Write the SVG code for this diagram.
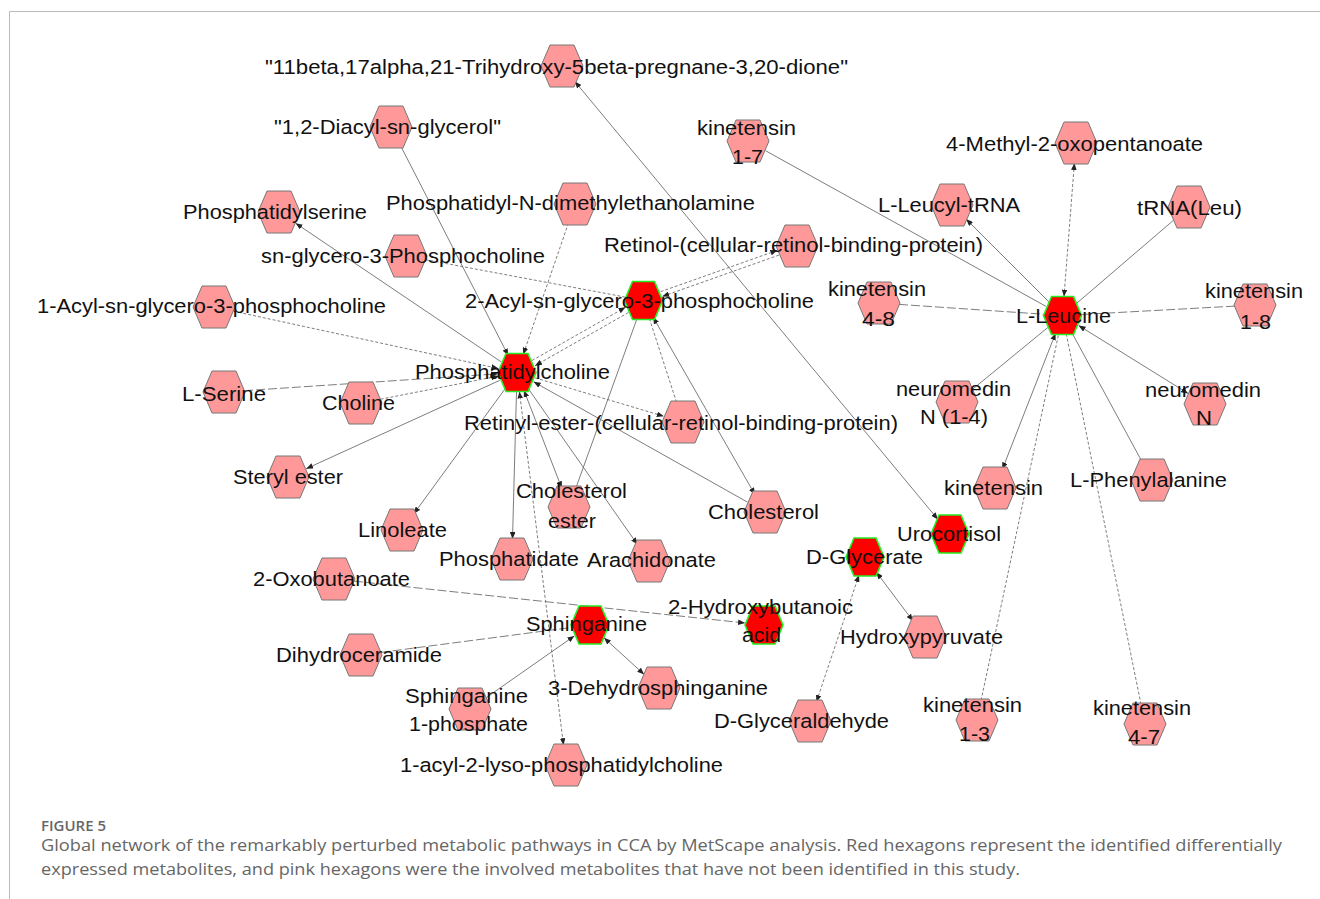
<svg xmlns="http://www.w3.org/2000/svg" xmlns:xlink="http://www.w3.org/1999/xlink" width="1320" height="899" viewBox="0 0 1320 899">
<style>
.e{stroke:#666;stroke-width:0.85;fill:none}
.d{stroke:#666;stroke-width:0.85;fill:none;stroke-dasharray:3 2}
.dl{stroke:#666;stroke-width:0.85;fill:none;stroke-dasharray:9 3}
.s{marker-start:url(#ah)}
.t{marker-end:url(#ah)}
text.l{font-family:"Liberation Sans",Arial,sans-serif;font-size:20.5px;fill:#111}
.cap{font-family:"Open Sans","Liberation Sans",sans-serif;fill:#666}
</style>
<defs>
<marker id="ah" viewBox="0 0 10 8" refX="10" refY="4" markerWidth="7" markerHeight="5.6" markerUnits="userSpaceOnUse" orient="auto-start-reverse"><path d="M0,0 L10,4 L0,8 z" fill="#222"/></marker>
<polygon id="hp" points="-21,0 -12,-21 12,-21 21,0 12,21 -12,21" fill="#FF9999" stroke="#777" stroke-width="1"/>
<polygon id="hr" points="-19,0 -11,-19 11,-19 19,0 11,19 -11,19" fill="#FF0000" stroke="#22EE22" stroke-width="1.6"/>
</defs>
<rect width="1320" height="899" fill="#fff"/>
<path d="M9.5,899 V11.5 H1320" fill="none" stroke="#bbb" stroke-width="1"/>

<g id="connectors">
<line class="e s t" x1="574.8" y1="81.4" x2="937.9" y2="519.4"/>
<line class="e t" x1="400.1" y1="144.8" x2="508.3" y2="355.6"/>
<line class="d t" x1="568.5" y1="222.9" x2="523.2" y2="354.5"/>
<line class="e t" x1="501.2" y1="361.9" x2="295.6" y2="223.2"/>
<line class="d t" x1="233.5" y1="311.2" x2="498.4" y2="368.5"/>
<line class="dl t" x1="244" y1="390.7" x2="498" y2="373.8"/>
<line class="d t" x1="380.6" y1="399.2" x2="498.4" y2="376.1"/>
<line class="e t" x1="499.7" y1="380.4" x2="306.2" y2="468.7"/>
<line class="e t" x1="505.8" y1="387.8" x2="413.8" y2="513.8"/>
<line class="e t" x1="516.5" y1="391.5" x2="512.5" y2="539"/>
<line class="d s t" x1="519.4" y1="391.4" x2="563.5" y2="745.2"/>
<line class="e s t" x1="523.9" y1="390.2" x2="561.8" y2="488.3"/>
<line class="e t" x1="527.9" y1="388.1" x2="637.5" y2="544.6"/>
<line class="d t" x1="535.2" y1="377.9" x2="663.8" y2="416.3"/>
<line class="e t" x1="747.6" y1="502.2" x2="533.6" y2="381.8"/>
<line class="d t" x1="532" y1="360.5" x2="625.5" y2="307.3"/>
<line class="d t" x1="628.5" y1="312.5" x2="535" y2="365.7"/>
<line class="d t" x1="660.6" y1="291.7" x2="777.4" y2="250.3"/>
<line class="d t" x1="779" y1="255.1" x2="662.2" y2="296.5"/>
<line class="d" x1="425.7" y1="259.7" x2="624.8" y2="297"/>
<line class="e" x1="637.1" y1="318.4" x2="575.8" y2="488.2"/>
<line class="d" x1="649.4" y1="318.6" x2="676.8" y2="403"/>
<line class="e s t" x1="653" y1="317" x2="755" y2="494.7"/>
<line class="e" x1="765.5" y1="150.7" x2="1045.9" y2="306.3"/>
<line class="e t" x1="1049" y1="302" x2="966.1" y2="219.1"/>
<line class="d s t" x1="1064" y1="296.6" x2="1074.4" y2="163"/>
<line class="e" x1="1173.8" y1="220" x2="1076.9" y2="303.1"/>
<line class="dl" x1="899" y1="304.4" x2="1043.5" y2="314.2"/>
<line class="dl" x1="1235" y1="306.1" x2="1081.5" y2="314.5"/>
<line class="e" x1="972.5" y1="389.3" x2="1047.8" y2="327.5"/>
<line class="e s t" x1="1188" y1="393.4" x2="1078.6" y2="325.5"/>
<line class="e s t" x1="1055.6" y1="333.2" x2="1002.3" y2="469.4"/>
<line class="d" x1="981.1" y1="700.4" x2="1058.6" y2="334.1"/>
<line class="d" x1="1141" y1="704.4" x2="1066.3" y2="334.1"/>
<line class="e" x1="1142.4" y1="462.4" x2="1071.6" y2="332.2"/>
<line class="dl t" x1="353.9" y1="581.1" x2="745.1" y2="623"/>
<line class="dl" x1="380.8" y1="652.4" x2="571.2" y2="627.5"/>
<line class="e t" x1="486.4" y1="697.5" x2="574.4" y2="635.9"/>
<line class="e s t" x1="604" y1="637.8" x2="644.2" y2="674.5"/>
<line class="d s t" x1="859" y1="575" x2="816.4" y2="702"/>
<line class="e s t" x1="876.4" y1="572.2" x2="913" y2="621"/>
</g>

<g id="n-trihydroxy"><use href="#hp" x="562" y="66"/><text class="l" x="265" y="74" textLength="583" lengthAdjust="spacingAndGlyphs">"11beta,17alpha,21-Trihydroxy-5beta-pregnane-3,20-dione"</text></g>
<g id="n-diacylglycerol"><use href="#hp" x="391" y="127"/><text class="l" x="274" y="134" textLength="227" lengthAdjust="spacingAndGlyphs">"1,2-Diacyl-sn-glycerol"</text></g>
<g id="n-phosphatidylserine"><use href="#hp" x="279" y="212"/><text class="l" x="183" y="219" textLength="184" lengthAdjust="spacingAndGlyphs">Phosphatidylserine</text></g>
<g id="n-pndme"><use href="#hp" x="575" y="204"/><text class="l" x="386" y="210" textLength="369" lengthAdjust="spacingAndGlyphs">Phosphatidyl-N-dimethylethanolamine</text></g>
<g id="n-snglycero"><use href="#hp" x="406" y="256"/><text class="l" x="261" y="263" textLength="284" lengthAdjust="spacingAndGlyphs">sn-glycero-3-Phosphocholine</text></g>
<g id="n-1acyl"><use href="#hp" x="214" y="307"/><text class="l" x="37" y="313" textLength="349" lengthAdjust="spacingAndGlyphs">1-Acyl-sn-glycero-3-phosphocholine</text></g>
<g id="n-retinol"><use href="#hp" x="797" y="246"/><text class="l" x="604" y="252" textLength="379" lengthAdjust="spacingAndGlyphs">Retinol-(cellular-retinol-binding-protein)</text></g>
<g id="n-2acyl"><use href="#hr" x="643.5" y="300.5"/><text class="l" x="465" y="307.5" textLength="349" lengthAdjust="spacingAndGlyphs">2-Acyl-sn-glycero-3-phosphocholine</text></g>
<g id="n-pc"><use href="#hr" x="517" y="372.5"/><text class="l" x="415" y="379" textLength="195" lengthAdjust="spacingAndGlyphs">Phosphatidylcholine</text></g>
<g id="n-lserine"><use href="#hp" x="224" y="392"/><text class="l" x="182" y="401" textLength="84" lengthAdjust="spacingAndGlyphs">L-Serine</text></g>
<g id="n-choline"><use href="#hp" x="361" y="403"/><text class="l" x="322" y="410" textLength="73" lengthAdjust="spacingAndGlyphs">Choline</text></g>
<g id="n-retinylester"><use href="#hp" x="683" y="422"/><text class="l" x="464" y="430" textLength="434" lengthAdjust="spacingAndGlyphs">Retinyl-ester-(cellular-retinol-binding-protein)</text></g>
<g id="n-sterylester"><use href="#hp" x="288" y="477"/><text class="l" x="233" y="484" textLength="110" lengthAdjust="spacingAndGlyphs">Steryl ester</text></g>
<g id="n-cholesterolester"><use href="#hp" x="569" y="507"/><text class="l" x="516" y="498" textLength="111" lengthAdjust="spacingAndGlyphs">Cholesterol</text><text class="l" x="548" y="528" textLength="48" lengthAdjust="spacingAndGlyphs">ester</text></g>
<g id="n-cholesterol"><use href="#hp" x="765" y="512"/><text class="l" x="708" y="519" textLength="111" lengthAdjust="spacingAndGlyphs">Cholesterol</text></g>
<g id="n-linoleate"><use href="#hp" x="402" y="530"/><text class="l" x="358" y="537" textLength="89" lengthAdjust="spacingAndGlyphs">Linoleate</text></g>
<g id="n-phosphatidate"><use href="#hp" x="512" y="559"/><text class="l" x="439" y="566" textLength="140" lengthAdjust="spacingAndGlyphs">Phosphatidate</text></g>
<g id="n-arachidonate"><use href="#hp" x="649" y="561"/><text class="l" x="587" y="567" textLength="129" lengthAdjust="spacingAndGlyphs">Arachidonate</text></g>
<g id="n-oxobutanoate"><use href="#hp" x="334" y="579"/><text class="l" x="253" y="586" textLength="157" lengthAdjust="spacingAndGlyphs">2-Oxobutanoate</text></g>
<g id="n-sphinganine"><use href="#hr" x="590" y="625"/><text class="l" x="526" y="631" textLength="121" lengthAdjust="spacingAndGlyphs">Sphinganine</text></g>
<g id="n-hydroxybutanoic"><use href="#hr" x="764" y="625"/><text class="l" x="668" y="614" textLength="185" lengthAdjust="spacingAndGlyphs">2-Hydroxybutanoic</text><text class="l" x="742" y="642" textLength="39" lengthAdjust="spacingAndGlyphs">acid</text></g>
<g id="n-dihydroceramide"><use href="#hp" x="361" y="655"/><text class="l" x="276" y="662" textLength="166" lengthAdjust="spacingAndGlyphs">Dihydroceramide</text></g>
<g id="n-dehydrosphinganine"><use href="#hp" x="659" y="688"/><text class="l" x="548" y="695" textLength="220" lengthAdjust="spacingAndGlyphs">3-Dehydrosphinganine</text></g>
<g id="n-sphinganine1p"><use href="#hp" x="470" y="709"/><text class="l" x="405" y="703" textLength="123" lengthAdjust="spacingAndGlyphs">Sphinganine</text><text class="l" x="409" y="731" textLength="119" lengthAdjust="spacingAndGlyphs">1-phosphate</text></g>
<g id="n-lysopc"><use href="#hp" x="566" y="765"/><text class="l" x="400" y="772" textLength="323" lengthAdjust="spacingAndGlyphs">1-acyl-2-lyso-phosphatidylcholine</text></g>
<g id="n-glyceraldehyde"><use href="#hp" x="810" y="721"/><text class="l" x="714" y="728" textLength="175" lengthAdjust="spacingAndGlyphs">D-Glyceraldehyde</text></g>
<g id="n-glycerate"><use href="#hr" x="865" y="557"/><text class="l" x="806" y="564" textLength="117" lengthAdjust="spacingAndGlyphs">D-Glycerate</text></g>
<g id="n-hydroxypyruvate"><use href="#hp" x="925" y="637"/><text class="l" x="840" y="644" textLength="163" lengthAdjust="spacingAndGlyphs">Hydroxypyruvate</text></g>
<g id="n-urocortisol"><use href="#hr" x="950" y="534"/><text class="l" x="897" y="541" textLength="104" lengthAdjust="spacingAndGlyphs">Urocortisol</text></g>
<g id="n-leucine"><use href="#hr" x="1062.5" y="315.5"/><text class="l" x="1016" y="323" textLength="95" lengthAdjust="spacingAndGlyphs">L-Leucine</text></g>
<g id="n-kinetensin17"><use href="#hp" x="748" y="141"/><text class="l" x="697" y="135" textLength="99" lengthAdjust="spacingAndGlyphs">kinetensin</text><text class="l" x="732" y="164" textLength="31" lengthAdjust="spacingAndGlyphs">1-7</text></g>
<g id="n-methyloxopentanoate"><use href="#hp" x="1076" y="143"/><text class="l" x="946" y="151" textLength="257" lengthAdjust="spacingAndGlyphs">4-Methyl-2-oxopentanoate</text></g>
<g id="n-leucyltrna"><use href="#hp" x="952" y="205"/><text class="l" x="878" y="212" textLength="142" lengthAdjust="spacingAndGlyphs">L-Leucyl-tRNA</text></g>
<g id="n-trnaleu"><use href="#hp" x="1189" y="207"/><text class="l" x="1137" y="215" textLength="105" lengthAdjust="spacingAndGlyphs">tRNA(Leu)</text></g>
<g id="n-kinetensin48"><use href="#hp" x="879" y="303"/><text class="l" x="828" y="296" textLength="98" lengthAdjust="spacingAndGlyphs">kinetensin</text><text class="l" x="862" y="326" textLength="33" lengthAdjust="spacingAndGlyphs">4-8</text></g>
<g id="n-kinetensin18"><use href="#hp" x="1255" y="305"/><text class="l" x="1205" y="298" textLength="98" lengthAdjust="spacingAndGlyphs">kinetensin</text><text class="l" x="1240" y="329" textLength="31" lengthAdjust="spacingAndGlyphs">1-8</text></g>
<g id="n-neuromedin14"><use href="#hp" x="957" y="402"/><text class="l" x="896" y="396" textLength="115" lengthAdjust="spacingAndGlyphs">neuromedin</text><text class="l" x="920" y="424" textLength="68" lengthAdjust="spacingAndGlyphs">N (1-4)</text></g>
<g id="n-neuromedinn"><use href="#hp" x="1205" y="404"/><text class="l" x="1145" y="397" textLength="116" lengthAdjust="spacingAndGlyphs">neuromedin</text><text class="l" x="1196" y="425" textLength="16" lengthAdjust="spacingAndGlyphs">N</text></g>
<g id="n-kinetensin"><use href="#hp" x="995" y="488"/><text class="l" x="944" y="495" textLength="99" lengthAdjust="spacingAndGlyphs">kinetensin</text></g>
<g id="n-phenylalanine"><use href="#hp" x="1152" y="480"/><text class="l" x="1070" y="487" textLength="157" lengthAdjust="spacingAndGlyphs">L-Phenylalanine</text></g>
<g id="n-kinetensin13"><use href="#hp" x="977" y="720"/><text class="l" x="923" y="712" textLength="99" lengthAdjust="spacingAndGlyphs">kinetensin</text><text class="l" x="959" y="741" textLength="31" lengthAdjust="spacingAndGlyphs">1-3</text></g>
<g id="n-kinetensin47"><use href="#hp" x="1145" y="724"/><text class="l" x="1093" y="715" textLength="98" lengthAdjust="spacingAndGlyphs">kinetensin</text><text class="l" x="1128" y="744" textLength="32" lengthAdjust="spacingAndGlyphs">4-7</text></g>

<g id="caption">
<text class="cap" x="41" y="831" font-size="13.5" font-weight="600" fill="#555" textLength="65" lengthAdjust="spacingAndGlyphs">FIGURE 5</text>
<text class="cap" x="41" y="851" font-size="16.5" textLength="1241" lengthAdjust="spacingAndGlyphs">Global network of the remarkably perturbed metabolic pathways in CCA by MetScape analysis. Red hexagons represent the identified differentially</text>
<text class="cap" x="41" y="875" font-size="16.5" textLength="979" lengthAdjust="spacingAndGlyphs">expressed metabolites, and pink hexagons were the involved metabolites that have not been identified in this study.</text>
</g>
</svg>
